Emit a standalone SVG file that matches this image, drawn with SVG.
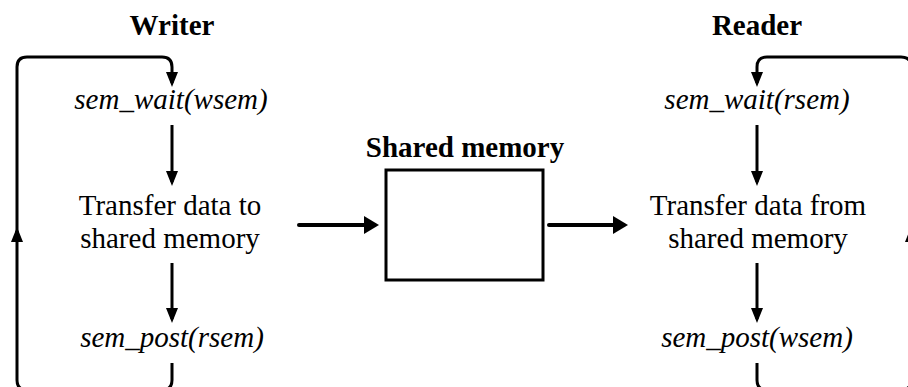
<svg xmlns="http://www.w3.org/2000/svg" width="908" height="387" viewBox="0 0 908 387">
<style>
text{font-family:"Liberation Serif","Times New Roman",serif;fill:#000;text-anchor:middle;font-size:29px}
.b{font-weight:bold}
.i{font-style:italic}
.ln{fill:none;stroke:#000;stroke-width:3;stroke-linejoin:round}
.th{fill:none;stroke:#000;stroke-width:4;stroke-linecap:round}
</style>
<defs>
<marker id="ah" markerUnits="userSpaceOnUse" markerWidth="16" markerHeight="12" refX="11" refY="6" orient="auto">
<path d="M0,0 L15,6 L0,12 z" fill="#000"/>
</marker>
<marker id="ahb" markerUnits="userSpaceOnUse" markerWidth="16" markerHeight="18" refX="10" refY="9" orient="auto">
<path d="M0,0 L15,9 L0,18 z" fill="#000"/>
</marker>
</defs>
<g id="titles">
<text class="b" x="172" y="35">Writer</text>
<text class="b" x="757" y="35">Reader</text>
</g>
<g id="writer-wait"><text class="i" x="171" y="109">sem_wait(wsem)</text></g>
<g id="writer-transfer"><text x="170" y="215">Transfer data to</text><text x="170" y="248">shared memory</text></g>
<g id="writer-post"><text class="i" x="172" y="347">sem_post(rsem)</text></g>
<g id="shared-memory"><text class="b" x="465" y="157">Shared memory</text><rect x="386" y="170" width="157" height="110" fill="#fff" stroke="#000" stroke-width="3"/></g>
<g id="reader-wait"><text class="i" x="757" y="109">sem_wait(rsem)</text></g>
<g id="reader-transfer"><text x="758" y="215">Transfer data from</text><text x="758" y="248">shared memory</text></g>
<g id="reader-post"><text class="i" x="757" y="347">sem_post(wsem)</text></g>
<g id="connectors">
<path class="ln" d="M172,125 V182" marker-end="url(#ah)"/>
<path class="ln" d="M172,263 V319" marker-end="url(#ah)"/>
<path class="ln" d="M757,125 V182" marker-end="url(#ah)"/>
<path class="ln" d="M757,263 V319" marker-end="url(#ah)"/>
<path class="ln" d="M172,363 V380 Q172,390 162,390 H27 Q17,390 17,380 V231" marker-end="url(#ah)"/>
<path class="ln" d="M17,240 V67 Q17,57 27,57 H162 Q172,57 172,67 V83" marker-end="url(#ah)"/>
<path class="ln" d="M757,363 V380 Q757,390 767,390 H901 Q911,390 911,380 V231" marker-end="url(#ah)"/>
<path class="ln" d="M911,240 V67 Q911,57 901,57 H767 Q757,57 757,67 V83" marker-end="url(#ah)"/>
<path class="th" d="M299,225 H374" marker-end="url(#ahb)"/>
<path class="th" d="M549,225 H623" marker-end="url(#ahb)"/>
</g>
</svg>
